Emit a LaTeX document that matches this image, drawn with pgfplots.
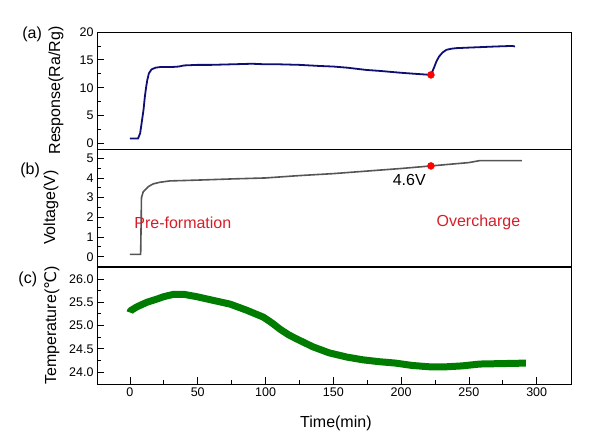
\documentclass[border=0pt]{standalone}
\usepackage{fontspec}
\setmainfont{Liberation Sans}
\newfontfamily\dejavu{DejaVu Sans}
\usepackage{pgfplots}
\pgfplotsset{compat=1.18}
\definecolor{navy}{RGB}{15,15,115}
\definecolor{vgray}{RGB}{85,85,85}
\definecolor{tgreen}{RGB}{0,125,0}
\definecolor{tred}{RGB}{215,30,40}
\pgfplotsset{
  panel/.style={
    width=474pt, height=117pt, scale only axis,
    xmin=-24.3, xmax=325.3,
    axis line style={line width=0.8pt},
    tick style={line width=0.8pt, black},
    major tick length=7pt, minor tick length=4pt,
    tick align=inside,
    ytick pos=left, xtick pos=bottom,
    /pgf/number format/assume math mode=true,
    tick label style={font=\fontsize{12.5}{12.5}\selectfont},
    label style={font=\fontsize{16}{16}\selectfont},
    clip=false,
  }
}
\begin{document}
\begin{tikzpicture}
\path[use as bounding box] (0,0) rectangle (594pt,447pt);

% (a) Response
\begin{axis}[panel, at={(97pt,298pt)}, anchor=south west,
  ymin=-1, ymax=20, ytick={0,5,10,15,20}, minor ytick={2.5,7.5,12.5,17.5},
  xtick=\empty, xticklabels={},
  ylabel={Response(Ra/Rg)},
  ylabel style={at={(axis description cs:-0.0865,0.5)}, anchor=center},
]
\addplot[navy, line width=1.8pt] coordinates {
(0,0.9) (6,0.9) (7.5,1.8) (8.6,3.6) (10,6) (11,8.4) (12,10.2) (12.8,11.4) (14,12.6)
(16,13.3) (19,13.6) (22,13.7) (30,13.7) (36,13.8) (40,14.0) (50,14.1) (60,14.1)
(75,14.2) (90,14.3) (100,14.2) (110,14.2) (125,14.1) (140,13.9) (150,13.8) (160,13.6)
(174,13.2) (185,13.0) (199,12.7) (210,12.5) (222,12.3) (224.6,13.8) (226,14.7)
(228,15.6) (230.5,16.3) (233.4,16.8) (237,17.0) (240.7,17.1) (250,17.2) (260,17.3)
(270,17.4) (282,17.5) (284,17.4)
};
\addplot[only marks, mark=*, mark size=3.5pt, color=red] coordinates {(222,12.3)};
\node[font=\fontsize{16}{16}\selectfont] at (axis description cs:-0.137,0.983) {(a)};
\end{axis}

% (b) Voltage
\begin{axis}[panel, at={(97pt,181pt)}, anchor=south west,
  ymin=-0.47, ymax=5.47, ytick={0,1,2,3,4,5}, minor ytick={0.5,1.5,2.5,3.5,4.5},
  xtick=\empty, xticklabels={},
  ylabel={Voltage(V)},
  ylabel style={at={(axis description cs:-0.097,0.5)}, anchor=center},
]
\addplot[vgray, line width=1.6pt] coordinates {
(0,0.12) (7.9,0.12) (8.2,1.5) (8.5,3.0) (9.8,3.3) (12,3.45) (14,3.58) (17.2,3.7)
(22,3.78) (29.5,3.85) (40,3.87) (54,3.9) (75,3.95) (100,4.0) (125,4.12) (150,4.22)
(175,4.35) (200,4.48) (222,4.61) (240,4.72) (250,4.78) (258,4.88) (270,4.88) (289,4.88)
};
\addplot[only marks, mark=*, mark size=3.5pt, color=red] coordinates {(222,4.61)};
\node[font=\fontsize{16}{16}\selectfont, text=tred] at (axis cs:39,1.71) {Pre-formation};
\node[font=\fontsize{16}{16}\selectfont, text=tred] at (axis cs:257,1.75) {Overcharge};
\node[font=\fontsize{16}{16}\selectfont] at (axis cs:206,3.9) {4.6V};
\node[font=\fontsize{16}{16}\selectfont] at (axis description cs:-0.141,0.82) {(b)};
\end{axis}

% (c) Temperature
\begin{axis}[panel, at={(97pt,63pt)}, anchor=south west,
  ymin=23.74, ymax=26.26, ytick={24,24.5,25,25.5,26}, minor ytick={24.25,24.75,25.25,25.75},
  xtick={0,50,100,150,200,250,300}, minor xtick={25,75,125,175,225,275},
  yticklabel style={/pgf/number format/.cd, fixed, fixed zerofill, precision=1},
  ylabel={Temperature({\dejavu ℃})},
  ylabel style={at={(axis description cs:-0.095,0.5)}, anchor=center},
  xlabel={Time(min)},
  xlabel style={at={(axis description cs:0.504,-0.333)}, anchor=center},
]
\addplot[tgreen, line width=7pt, line join=round] coordinates {
(0,25.28) (0.5,25.32) (5,25.4) (12.5,25.5) (20,25.57) (24.8,25.62) (32,25.67)
(40,25.67) (49.4,25.62) (61.6,25.54) (73.9,25.46) (86,25.33) (98.4,25.18) (105,25.05)
(110.7,24.92) (117,24.8) (123,24.71) (135,24.54) (147,24.41) (160,24.32) (172,24.26)
(184,24.22) (196,24.19) (208,24.14) (221,24.11) (233,24.11) (245,24.13) (258,24.17)
(275,24.18) (292,24.19)
};
\node[font=\fontsize{16}{16}\selectfont] at (axis description cs:-0.146,0.897) {(c)};
\end{axis}
\end{tikzpicture}
\end{document}
